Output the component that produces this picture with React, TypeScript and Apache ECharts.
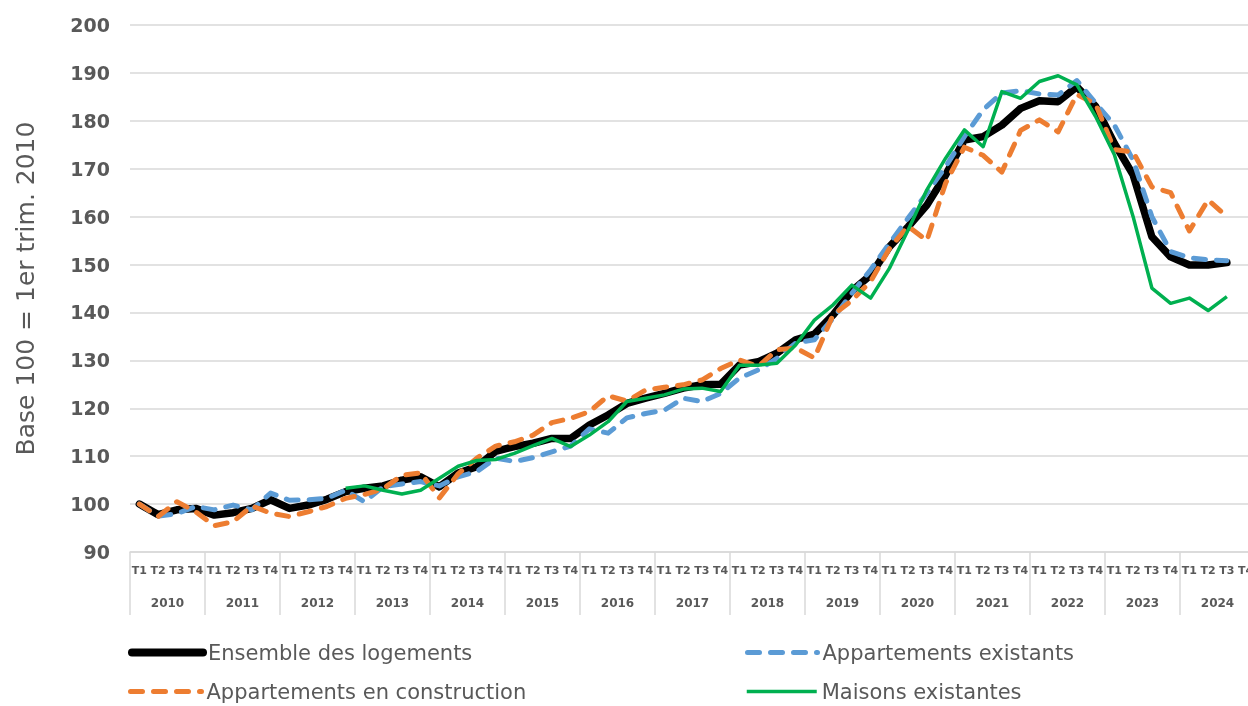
import React, { useEffect, useRef } from "react";
import * as echarts from "echarts";

const years = ["2010", "2011", "2012", "2013", "2014", "2015", "2016", "2017", "2018", "2019", "2020", "2021", "2022", "2023", "2024"];
const quarterLabels = ["T1", "T2", "T3", "T4"];
const yTicks = { min: 90, max: 200, step: 10 };

const seriesNames = ["Ensemble des logements", "Appartements existants", "Appartements en construction", "Maisons existantes"];

const ensemble = [100.0, 97.8, 98.8, 99.1, 97.7, 98.2, 99.1, 100.9, 99.1, 99.8, 101.0, 102.6, 103.3, 103.8, 105.0, 105.7, 103.6, 106.5, 107.8, 111.0, 112.0, 112.7, 113.7, 113.7, 116.5, 118.6, 121.0, 122.1, 123.1, 124.2, 124.9, 125.0, 129.0, 129.7, 131.5, 134.3, 135.5, 139.5, 144.5, 147.8, 153.7, 157.9, 162.4, 168.7, 176.0, 176.7, 179.1, 182.6, 184.2, 184.0, 187.1, 183.0, 175.3, 168.7, 155.8, 151.6, 149.9, 149.9, 150.4];

const apptExistants = [100.0, 97.5, 98.0, 99.5, 98.8, 99.8, 98.8, 102.3, 100.8, 100.9, 101.2, 102.9, 100.5, 103.6, 104.2, 104.7, 103.8, 105.7, 106.8, 109.6, 108.9, 109.7, 110.9, 112.1, 115.7, 114.8, 118.0, 118.9, 119.6, 122.1, 121.4, 123.1, 126.3, 128.0, 130.4, 133.6, 134.3, 138.8, 144.0, 148.9, 154.4, 159.7, 164.9, 170.4, 176.7, 182.3, 185.8, 186.3, 185.6, 185.4, 188.4, 183.7, 179.1, 171.8, 160.0, 152.7, 151.4, 151.0, 150.8];

const apptConstruction = [100.0, 97.4, 100.5, 98.4, 95.5, 96.3, 99.6, 98.1, 97.4, 98.4, 99.5, 101.2, 102.0, 103.2, 106.0, 106.5, 101.3, 106.3, 109.6, 112.1, 113.0, 114.4, 117.0, 117.9, 119.3, 122.6, 121.5, 123.8, 124.4, 124.9, 125.9, 128.3, 130.1, 128.7, 132.2, 132.6, 130.5, 139.5, 142.5, 146.5, 153.3, 158.0, 155.0, 167.0, 174.5, 172.8, 169.3, 178.0, 180.2, 177.7, 185.5, 183.5, 174.0, 173.5, 166.2, 165.0, 157.0, 163.5, 160.0];

const maisons = [null, null, null, null, null, null, null, null, null, null, null, 103.3, 103.8, 102.9, 102.1, 102.9, 105.4, 107.9, 109.1, 109.3, 110.6, 112.2, 113.7, 112.0, 114.4, 117.2, 121.4, 122.1, 122.8, 124.0, 124.2, 123.5, 129.0, 129.0, 129.4, 133.2, 138.4, 141.6, 145.7, 143.0, 149.2, 157.2, 165.6, 172.2, 178.1, 174.6, 186.1, 184.7, 188.2, 189.4, 187.5, 180.9, 172.9, 160.0, 145.1, 141.9, 143.0, 140.4, 143.3];

export default function App() {
  const ref = useRef<HTMLDivElement>(null);
  useEffect(() => {
    if (!ref.current) return;
    const chart = echarts.init(ref.current, null, { renderer: "svg" });
    const categories = years.flatMap(() => quarterLabels);
    const font = "'DejaVu Sans', sans-serif";
    const grey = "#595959";
    const gridColor = "#D9D9D9";
    const colors = ["#000000", "#5B9BD5", "#ED7D31", "#00B050"];
    const legendCommon = {
      padding: 0,
      itemWidth: 71,
      itemHeight: 14,
      selectedMode: false,
      itemStyle: { color: "transparent", borderColor: "transparent", borderWidth: 0, opacity: 0 },
      textStyle: { fontSize: 21, color: grey, fontFamily: font },
    };
    chart.setOption({
      animation: false,
      textStyle: { fontFamily: font },
      grid: { left: 130, top: 25, right: -7, bottom: 154, outerBoundsMode: "none" },
      xAxis: [
        {
          type: "category",
          data: categories,
          position: "bottom",
          boundaryGap: true,
          axisLine: { show: false },
          axisTick: { show: false },
          splitLine: { show: false },
          axisLabel: { interval: 0, margin: 13, fontSize: 11, fontWeight: "bold", color: grey, fontFamily: font },
        },
        {
          type: "category",
          data: years,
          position: "bottom",
          boundaryGap: true,
          axisLine: { show: true, lineStyle: { color: gridColor, width: 1.5 } },
          axisTick: { show: true, length: 63, interval: 0, lineStyle: { color: gridColor, width: 1.5 } },
          splitLine: { show: false },
          axisLabel: { interval: 0, margin: 45, fontSize: 12, fontWeight: "bold", color: grey, fontFamily: font },
        },
      ],
      yAxis: {
        type: "value",
        min: yTicks.min,
        max: yTicks.max,
        interval: yTicks.step,
        axisLine: { show: false },
        axisTick: { show: false },
        splitLine: { show: true, lineStyle: { color: gridColor, width: 1.5 } },
        axisLabel: { margin: 20, fontSize: 19, fontWeight: "bold", color: grey, fontFamily: font },
        name: "Base 100 = 1er trim. 2010",
        nameLocation: "middle",
        nameGap: 92,
        nameTextStyle: { fontSize: 25, color: grey, fontFamily: font },
      },
      legend: [
        { ...legendCommon, data: [seriesNames[0]], left: 128, top: 642, lineStyle: { width: 8, color: colors[0], cap: "round" } },
        { ...legendCommon, itemWidth: 70, data: [seriesNames[1]], left: 745, top: 642, lineStyle: { width: 5, color: colors[1], type: [12, 11], cap: "round" } },
        { ...legendCommon, data: [seriesNames[2]], left: 128, top: 681, lineStyle: { width: 5, color: colors[2], type: [12, 11], cap: "round" } },
        { ...legendCommon, itemWidth: 70, data: [seriesNames[3]], left: 745, top: 681, lineStyle: { width: 3.5, color: colors[3] } },
      ],
      series: [
        {
          name: seriesNames[0],
          type: "line",
          data: ensemble,
          symbol: "none",
          color: colors[0],
          lineStyle: { width: 7.5, cap: "round", join: "round" },
          z: 2,
        },
        {
          name: seriesNames[1],
          type: "line",
          data: apptExistants,
          symbol: "none",
          color: colors[1],
          lineStyle: { width: 5, type: [12, 11], cap: "round", join: "round" },
          z: 3,
        },
        {
          name: seriesNames[2],
          type: "line",
          data: apptConstruction,
          symbol: "none",
          color: colors[2],
          lineStyle: { width: 5, type: [12, 11], cap: "round", join: "round" },
          z: 4,
        },
        {
          name: seriesNames[3],
          type: "line",
          data: maisons,
          symbol: "none",
          color: colors[3],
          connectNulls: false,
          lineStyle: { width: 3.5, join: "round" },
          z: 5,
        },
      ],
    });
    return () => chart.dispose();
  }, []);
  return <div ref={ref} style={{ position: "fixed", left: 0, top: 0, width: 1248, height: 706 }} />;
}
